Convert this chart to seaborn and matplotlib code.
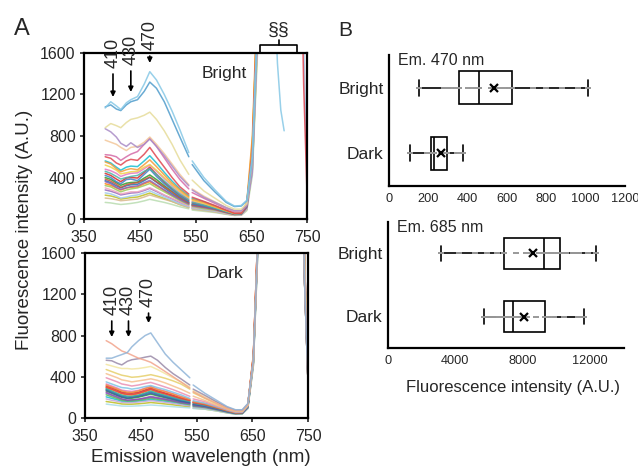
import numpy as np
import pandas as pd
import matplotlib
matplotlib.use("Agg")
import matplotlib.pyplot as plt
import seaborn as sns

# ---------------- data ----------------
# emission spectra: two measured ranges with a small gap around 540 nm
wl_short = [388, 398, 408, 416, 426, 434, 446, 458, 468, 480, 494, 508, 522, 538]
wl_long = [544, 565, 585, 605, 620, 632, 642, 652, 662, 738, 744, 750]

bright_short = [
    [1070, 1130, 1090, 1055, 1120, 1150, 1180, 1300, 1420, 1340, 1200, 1040, 860, 640],
    [1080, 1100, 1060, 1045, 1100, 1130, 1150, 1230, 1320, 1260, 1130, 960, 790, 600],
    [880, 920, 900, 880, 930, 960, 975, 1000, 1030, 960, 850, 720, 570, 430],
    [870, 840, 790, 730, 700, 735, 690, 720, 770, 700, 610, 510, 410, 320],
    [760, 740, 720, 690, 660, 690, 700, 740, 790, 720, 630, 530, 430, 330],
    [620, 615, 600, 565, 600, 625, 650, 720, 780, 700, 590, 480, 380, 290],
    [600, 585, 540, 520, 560, 575, 565, 625, 690, 600, 500, 400, 310, 240],
    [550, 530, 485, 455, 475, 485, 475, 525, 570, 505, 425, 345, 280, 215],
    [520, 500, 470, 435, 445, 455, 460, 500, 525, 470, 400, 330, 265, 205],
    [460, 440, 410, 385, 400, 410, 420, 460, 485, 430, 365, 300, 240, 185],
    [420, 400, 360, 340, 380, 385, 370, 430, 480, 410, 340, 280, 220, 165],
    [385, 365, 335, 305, 330, 340, 350, 380, 405, 360, 310, 260, 205, 155],
    [360, 340, 305, 285, 300, 312, 320, 350, 372, 330, 280, 232, 188, 145],
    [322, 310, 282, 262, 280, 290, 300, 322, 342, 302, 262, 220, 178, 138],
    [300, 282, 262, 242, 252, 262, 262, 282, 302, 272, 232, 200, 165, 128],
    [252, 242, 222, 202, 212, 222, 232, 252, 272, 242, 212, 180, 148, 118],
    [202, 196, 186, 176, 181, 186, 192, 212, 232, 212, 190, 168, 138, 108],
    [160, 155, 146, 140, 145, 150, 160, 175, 190, 176, 160, 140, 118, 98],
    [480, 465, 440, 410, 430, 440, 445, 485, 520, 460, 390, 320, 255, 195],
    [440, 420, 385, 360, 395, 400, 395, 450, 500, 430, 355, 290, 230, 175],
    [400, 382, 350, 325, 345, 352, 355, 395, 425, 380, 320, 265, 210, 160],
    [370, 350, 320, 300, 320, 330, 335, 370, 400, 355, 300, 245, 195, 150],
    [340, 325, 300, 280, 300, 305, 310, 340, 360, 320, 275, 228, 185, 142],
    [280, 268, 250, 232, 242, 250, 255, 275, 295, 265, 228, 195, 160, 125],
    [230, 222, 208, 192, 200, 206, 212, 232, 250, 225, 198, 170, 140, 112],
    [560, 540, 500, 470, 500, 510, 505, 560, 610, 540, 450, 365, 290, 225],
]
bright_long = [
    [560, 400, 280, 170, 125, 130, 180, 600, 2000, 3000, 3000, 3000],
    [525, 370, 260, 160, 120, 125, 175, 580, 2000, 3000, 3000, 3000],
    [375, 270, 200, 130, 95, 95, 150, 560, 2000, 3000, 3000, 3000],
    [280, 210, 160, 110, 80, 80, 130, 450, 1900, 3000, 3000, 3000],
    [290, 220, 165, 110, 80, 78, 140, 560, 2000, 3000, 3000, 3000],
    [255, 200, 150, 100, 70, 70, 140, 600, 2100, 3000, 3000, 3000],
    [210, 170, 130, 85, 55, 55, 130, 650, 2100, 3000, 1300, 250],
    [190, 160, 120, 80, 55, 60, 160, 800, 2300, 3000, 3000, 3000],
    [180, 150, 115, 78, 52, 55, 150, 750, 2200, 3000, 3000, 3000],
    [162, 135, 105, 72, 50, 52, 130, 620, 2100, 3000, 3000, 3000],
    [145, 125, 100, 70, 48, 50, 120, 600, 2000, 3000, 3000, 3000],
    [136, 118, 95, 65, 45, 48, 120, 620, 2100, 3000, 3000, 3000],
    [128, 110, 90, 62, 44, 46, 110, 560, 2000, 3000, 3000, 3000],
    [122, 100, 85, 60, 42, 45, 110, 580, 2000, 3000, 3000, 3000],
    [113, 98, 80, 56, 40, 42, 100, 520, 1900, 3000, 3000, 3000],
    [104, 90, 75, 52, 38, 40, 95, 500, 1900, 3000, 1700, 450],
    [96, 82, 68, 48, 36, 38, 90, 480, 1800, 3000, 3000, 3000],
    [86, 74, 62, 45, 34, 36, 80, 420, 1700, 3000, 3000, 3000],
    [170, 142, 110, 75, 50, 52, 135, 640, 2100, 3000, 3000, 3000],
    [155, 130, 102, 70, 46, 48, 140, 700, 2200, 3000, 3000, 3000],
    [142, 120, 96, 66, 44, 46, 115, 600, 2000, 3000, 3000, 3000],
    [134, 112, 90, 62, 43, 45, 110, 580, 2000, 3000, 3000, 3000],
    [127, 106, 85, 60, 42, 44, 130, 700, 2200, 3000, 3000, 3000],
    [112, 95, 78, 55, 40, 42, 100, 520, 1900, 3000, 3000, 3000],
    [100, 86, 70, 50, 37, 39, 92, 480, 1800, 3000, 3000, 3000],
    [198, 165, 125, 83, 56, 58, 140, 650, 2100, 3000, 3000, 3000],
]
# short broken piece of the top bright spectrum around 700 nm
tail_nm = [690, 697, 703, 709]
tail_val = [2400, 1500, 1050, 850]

dark_short = [
    [580, 580, 600, 615, 635, 690, 750, 800, 825, 730, 620, 540, 470, 390],
    [750, 720, 680, 650, 630, 610, 580, 560, 540, 500, 450, 400, 350, 290],
    [560, 555, 530, 515, 550, 565, 575, 590, 600, 560, 490, 430, 380, 320],
    [520, 505, 490, 480, 480, 475, 480, 490, 500, 470, 430, 390, 350, 300],
    [470, 450, 430, 415, 405, 395, 400, 410, 420, 405, 385, 360, 330, 280],
    [430, 410, 390, 370, 360, 350, 360, 370, 380, 365, 340, 310, 280, 240],
    [390, 370, 350, 330, 320, 310, 320, 335, 345, 325, 300, 275, 245, 210],
    [350, 330, 310, 295, 290, 280, 290, 305, 315, 295, 275, 250, 225, 190],
    [320, 300, 280, 262, 250, 248, 262, 285, 300, 275, 255, 232, 205, 180],
    [300, 280, 258, 240, 230, 228, 240, 262, 280, 255, 235, 212, 190, 170],
    [285, 262, 240, 222, 212, 210, 222, 242, 262, 240, 220, 200, 180, 160],
    [270, 245, 222, 205, 192, 198, 210, 225, 240, 222, 202, 182, 162, 148],
    [250, 225, 205, 185, 172, 176, 182, 192, 202, 192, 180, 165, 150, 138],
    [225, 205, 188, 172, 165, 166, 172, 182, 192, 182, 172, 160, 145, 130],
    [185, 172, 162, 152, 150, 150, 155, 162, 168, 162, 152, 142, 130, 118],
    [135, 128, 122, 116, 115, 115, 118, 122, 126, 122, 116, 110, 104, 98],
    [330, 310, 290, 270, 262, 258, 268, 290, 305, 282, 260, 236, 210, 182],
    [310, 292, 270, 250, 242, 240, 250, 272, 290, 265, 242, 220, 196, 172],
    [295, 275, 255, 236, 226, 224, 236, 256, 275, 252, 232, 210, 188, 166],
    [278, 255, 232, 214, 204, 206, 216, 236, 252, 232, 212, 192, 172, 154],
    [262, 240, 218, 200, 190, 192, 202, 218, 232, 215, 198, 180, 162, 146],
    [240, 218, 198, 180, 172, 174, 182, 196, 210, 198, 184, 168, 152, 138],
    [205, 190, 176, 162, 158, 158, 164, 172, 180, 172, 162, 150, 138, 124],
    [160, 152, 144, 136, 134, 134, 138, 144, 150, 144, 136, 128, 118, 108],
]
dark_long = [
    [320, 240, 175, 110, 80, 80, 140, 560, 2000, 3000, 1300, 350],
    [255, 195, 145, 95, 70, 70, 130, 560, 2000, 3000, 1400, 400],
    [280, 220, 160, 105, 75, 75, 135, 560, 2000, 3000, 1300, 350],
    [265, 205, 150, 100, 72, 72, 130, 540, 2000, 3000, 1500, 450],
    [245, 190, 140, 92, 68, 68, 125, 540, 2000, 3000, 1400, 400],
    [212, 170, 128, 88, 64, 64, 125, 560, 2000, 3000, 1300, 350],
    [185, 158, 120, 82, 60, 60, 120, 560, 2000, 3000, 1400, 400],
    [168, 145, 112, 78, 56, 56, 115, 540, 2000, 3000, 1300, 350],
    [158, 138, 106, 74, 52, 54, 125, 600, 2100, 3000, 1500, 450],
    [150, 130, 100, 70, 50, 52, 120, 600, 2100, 3000, 1300, 350],
    [142, 122, 95, 66, 48, 50, 115, 580, 2000, 3000, 1400, 400],
    [132, 115, 90, 63, 46, 48, 110, 560, 2000, 3000, 1300, 350],
    [122, 108, 85, 60, 44, 46, 105, 540, 2000, 3000, 1500, 450],
    [115, 102, 80, 57, 42, 44, 100, 540, 2000, 3000, 1400, 400],
    [105, 95, 75, 54, 40, 42, 95, 520, 1900, 3000, 1300, 350],
    [92, 86, 70, 50, 38, 40, 90, 500, 1900, 3000, 1500, 450],
    [160, 138, 106, 74, 53, 54, 120, 580, 2000, 3000, 1400, 400],
    [152, 132, 102, 71, 51, 52, 122, 600, 2100, 3000, 1300, 350],
    [146, 126, 98, 68, 49, 50, 125, 620, 2100, 3000, 1500, 450],
    [136, 118, 92, 64, 47, 49, 112, 570, 2000, 3000, 1400, 400],
    [128, 112, 88, 62, 45, 47, 108, 560, 2000, 3000, 1300, 350],
    [122, 106, 84, 59, 43, 45, 104, 540, 2000, 3000, 1500, 450],
    [110, 97, 78, 55, 41, 43, 98, 530, 1950, 3000, 1400, 400],
    [96, 86, 70, 50, 38, 40, 92, 510, 1900, 3000, 1300, 350],
]

bright_colors = ["#86c8e6", "#4f9ccc", "#e6dc9a", "#a98bc6", "#f3c79a", "#d46aa6",
                 "#e0454f", "#f29a3a", "#f0d24a", "#4bb3a6", "#3f7fc4", "#c8553d",
                 "#8a63b8", "#9cc95a", "#f0a8c0", "#9fc9ea", "#d9b98c", "#b9dcb0",
                 "#e377c2", "#d62728", "#2ca02c", "#1f77b4", "#ff7f0e", "#9467bd",
                 "#bcbd22", "#17becf"]
dark_colors = ["#8fb4d8", "#f2a48c", "#9a8aa8", "#f3e6a0", "#e6cf6a", "#f5c08e",
               "#e98fb3", "#7fc3e4", "#f0903a", "#e04848", "#3fa99c", "#3c5fa8",
               "#8a4fb0", "#5cb85c", "#c3a6d8", "#a8dde8", "#e377c2", "#d62728",
               "#ff7f0e", "#1f77b4", "#2ca02c", "#9467bd", "#17becf", "#bcbd22"]

# box plot samples (fluorescence at 470 nm and 685 nm)
groups = ["Bright", "Dark"]
em470_bright = [150, 280, 310, 330, 345, 355, 400, 420, 440, 450, 460, 520, 560,
                590, 610, 625, 730, 800, 880, 960, 1010]
em470_dark = [105, 195, 205, 208, 211, 213, 220, 224, 226, 228, 229, 265, 275,
              285, 292, 296, 345, 360, 370, 375, 378]
em685_bright = [3150, 4210, 5200, 5900, 6500, 6890, 7600, 8200, 8600, 9000, 9285,
                9500, 9700, 9900, 10100, 10240, 10600, 11000, 11400, 11900, 12355]
em685_dark = [5720, 6100, 6400, 6600, 6800, 6910, 7050, 7150, 7250, 7350, 7443,
              7600, 7900, 8300, 8800, 9370, 9600, 9900, 10450, 11300, 11690]

sns.set_theme(style="white")
plt.rcParams["font.family"] = ["Liberation Sans", "DejaVu Sans"]


def spectra_frame(short, long, tail=None):
    rows = []
    for i, (s, l) in enumerate(zip(short, long)):
        for w, v in zip(wl_short, s):
            rows.append((f"c{i:02d}", "a", w, v))
        for w, v in zip(wl_long, l):
            rows.append((f"c{i:02d}", "b", w, v))
    if tail is not None:
        for w, v in zip(*tail):
            rows.append(("c00", "c", w, v))
    return pd.DataFrame(rows, columns=["curve", "seg", "nm", "val"])


def spectra_panel(ax, df, colors, title, marks):
    pal = {f"c{i:02d}": c for i, c in enumerate(colors)}
    order = sorted(pal)[::-1]
    sns.lineplot(data=df, x="nm", y="val", hue="curve", units="seg",
                 estimator=None, palette=pal, hue_order=order, lw=1.1,
                 alpha=0.85, legend=False, ax=ax)
    ax.set_xlim(350, 750)
    ax.set_ylim(0, 1600)
    ax.set_xticks([350, 450, 550, 650, 750])
    ax.set_yticks([0, 400, 800, 1200, 1600])
    ax.set_xlabel("")
    ax.set_ylabel("")
    ax.tick_params(labelsize=11.5, length=3, width=1.2, direction="out",
                   left=True, bottom=True)
    ax.tick_params(axis="x", pad=5)
    ax.tick_params(axis="y", pad=3)
    for s in ax.spines.values():
        s.set_linewidth(1.6)
        s.set_color("black")
    ax.text(601, 1400, title, fontsize=12.5, ha="center", va="center")
    for lab, x, ytext, ytip in marks:
        ax.annotate(lab, xy=(x, ytip), xytext=(x, ytext), rotation=90,
                    ha="center", va="bottom", fontsize=13,
                    annotation_clip=False,
                    arrowprops=dict(arrowstyle="-|>", color="black", lw=1.2,
                                    mutation_scale=7, shrinkA=2, shrinkB=0))


def box_panel(ax, bright, dark, xmax, ticks, title):
    df = pd.DataFrame({"group": ["Bright"] * len(bright) + ["Dark"] * len(dark),
                       "val": bright + dark})
    sns.boxplot(data=df, x="val", y="group", order=groups, orient="h",
                whis=(0, 100), width=0.5, color="white", linecolor="black",
                linewidth=1.2, showmeans=True,
                meanprops=dict(marker="x", markeredgecolor="black",
                               markersize=6, markeredgewidth=1.6, zorder=6),
                ax=ax)
    sns.stripplot(data=df, x="val", y="group", order=groups, orient="h",
                  jitter=False, marker="_", size=4, linewidth=1.4,
                  color="0.6", zorder=4, ax=ax)
    ax.set_xlim(0, xmax)
    ax.set_ylim(1.5, -0.5)
    ax.set_xticks(ticks)
    ax.set_xlabel("")
    ax.set_ylabel("")
    sns.despine(ax=ax)
    for s in ("left", "bottom"):
        ax.spines[s].set_linewidth(1.6)
        ax.spines[s].set_color("black")
    ax.tick_params(axis="y", labelsize=12.5, length=0, pad=4)
    ax.tick_params(axis="x", labelsize=9.2, length=2, pad=3)
    ax.text(0.04, 0.96, title, transform=ax.transAxes, fontsize=11.5,
            ha="left", va="center")


fig = plt.figure(figsize=(6.38, 4.75), dpi=100)
axA1 = fig.add_axes([84 / 638, 1 - 219 / 475, 223 / 638, 166 / 475])
axA2 = fig.add_axes([85 / 638, 1 - 418 / 475, 223 / 638, 165 / 475])
axB1 = fig.add_axes([389 / 638, 1 - 186 / 475, 236 / 638, 131 / 475])
axB2 = fig.add_axes([388 / 638, 1 - 348 / 475, 236 / 638, 126 / 475])

spectra_panel(axA1, spectra_frame(bright_short, bright_long, (tail_nm, tail_val)),
              bright_colors, "Bright",
              [("410", 402, 1456, 1176), ("430", 434, 1485, 1224), ("470", 468, 1629, 1504)])
spectra_panel(axA2, spectra_frame(dark_short, dark_long), dark_colors, "Dark",
              [("410", 398, 999, 785), ("430", 428, 999, 785), ("470", 464, 1076, 921)])

# bracket marking the saturated chlorophyll region
axA1.plot([666, 666, 732, 732], [1610, 1680, 1680, 1610], color="black",
          lw=1.2, clip_on=False)
axA1.plot([699, 699], [1680, 1730], color="black", lw=1.2, clip_on=False)
axA1.text(699, 1740, "§§", ha="center", va="bottom", fontsize=14)

box_panel(axB1, em470_bright, em470_dark, 1200, [0, 200, 400, 600, 800, 1000, 1200], "Em. 470 nm")
box_panel(axB2, em685_bright, em685_dark, 14050, [0, 4000, 8000, 12000], "Em. 685 nm")

fig.text(0.039, 0.516, "Fluorescence intensity (A.U.)", rotation=90,
         ha="center", va="center", fontsize=13.5)
fig.text(201 / 638, 0.036, "Emission wavelength (nm)", ha="center",
         va="center", fontsize=13.5)
fig.text(513 / 638, 0.185, "Fluorescence intensity (A.U.)", ha="center",
         va="center", fontsize=12)
fig.text(22 / 638, 1 - 29 / 475, "A", ha="center", va="center", fontsize=17)
fig.text(345 / 638, 1 - 31 / 475, "B", ha="center", va="center", fontsize=15)

fig.savefig("out.png", dpi=100)
